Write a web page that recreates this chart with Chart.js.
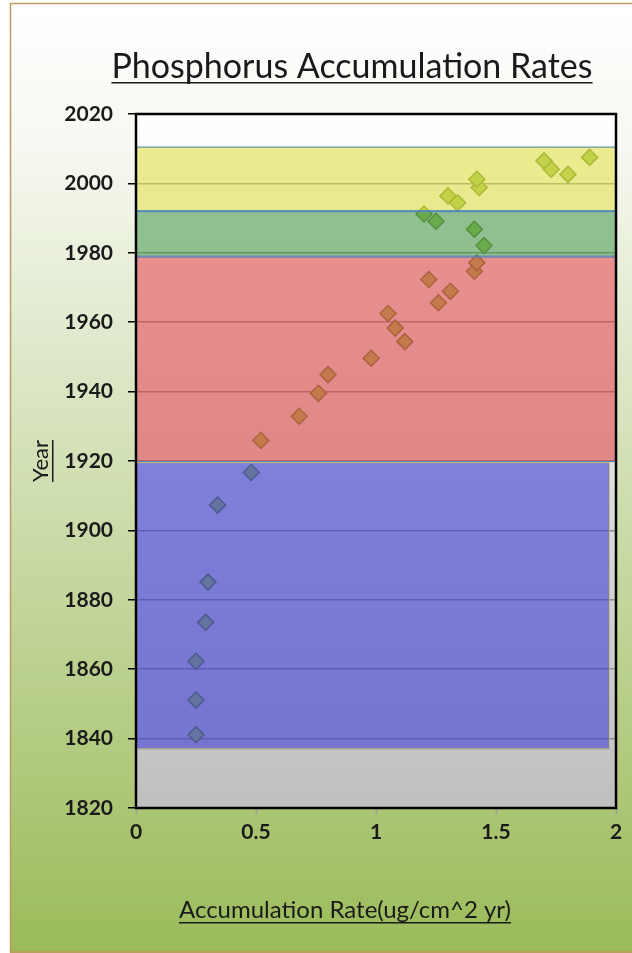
<!DOCTYPE html>
<html>
<head>
<meta charset="utf-8">
<title>Phosphorus Accumulation Rates</title>
<script src="https://cdn.jsdelivr.net/npm/chart.js@4.4.1/dist/chart.umd.min.js"></script>
<style>
  html, body { margin: 0; padding: 0; background: #fff; }
  #chart { display: block; }
</style>
</head>
<body>
<canvas id="chart" width="632" height="953"></canvas>
<script>
// Core samples: accumulation rate (ug/cm^2 yr) against year
const years = [1841.1, 1851.1, 1862.3, 1873.5, 1885.1, 1907.3, 1916.7, 1925.9,
               1932.9, 1939.5, 1944.9, 1949.6, 1954.4, 1958.3, 1962.5, 1965.6,
               1968.9, 1972.3, 1974.7, 1977.1, 1982.1, 1986.8, 1989.1, 1991.2,
               1994.4, 1996.4, 1998.8, 2001.2, 2002.6, 2004.1, 2006.5, 2007.5];
const rates = [0.25, 0.25, 0.25, 0.29, 0.30, 0.34, 0.48, 0.52,
               0.68, 0.76, 0.80, 0.98, 1.12, 1.08, 1.05, 1.26,
               1.31, 1.22, 1.41, 1.42, 1.45, 1.41, 1.25, 1.20,
               1.34, 1.30, 1.43, 1.42, 1.80, 1.73, 1.70, 1.89];

// Shaded periods (years) and how far along the rate axis each one runs
const bandFrom = [1992.0, 1978.9, 1919.7, 1836.9];
const bandTo = [2010.6, 1992.0, 1978.9, 1919.7];
const bandRateEnd = [2, 2, 2, 1.975];

// Axis ranges
const yearMin = 1820, yearMax = 2020, yearStep = 20;
const rateMin = 0, rateMax = 2, rateStep = 0.5;

const bandFill = ['rgba(223,223,70,0.6)', 'rgba(77,155,77,0.6)',
                  'rgba(225,77,77,0.6)', 'rgba(65,65,215,0.6)'];
const bandEdge = ['#4f81bd', '#4f81bd', '#4f81bd', '#c9c070'];

const FONT = 'Lato, "Open Sans", sans-serif';
const INK = '#1a1a1a';

// Page background, outer frame and plot area fill
const backdrop = {
    id: 'backdrop',
    beforeDraw(chart) {
        const { ctx, width, height, chartArea: a } = chart;
        ctx.save();
        ctx.fillStyle = '#ffffff';
        ctx.fillRect(0, 0, width, height);
        const g = ctx.createLinearGradient(0, 3, 0, height);
        g.addColorStop(0, '#ffffff');
        g.addColorStop(0.15, '#f6f8f1');
        g.addColorStop(1, '#9bbb59');
        ctx.fillStyle = g;
        ctx.fillRect(10, 3, width - 10, height - 3);
        ctx.strokeStyle = '#bf9a62';
        ctx.lineWidth = 1.5;
        ctx.beginPath();
        ctx.moveTo(width, 3.5);
        ctx.lineTo(10.5, 3.5);
        ctx.lineTo(10.5, height - 1);
        ctx.lineTo(width, height - 1);
        ctx.stroke();

        const p = ctx.createLinearGradient(0, a.top, 0, a.bottom);
        p.addColorStop(0, '#ffffff');
        p.addColorStop(1, '#bfbfbf');
        ctx.fillStyle = p;
        ctx.fillRect(a.left, a.top, a.right - a.left, a.bottom - a.top);
        ctx.restore();
    }
};

// Translucent period bands laid over the points, then the plot frame
const bands = {
    id: 'bands',
    afterDatasetsDraw(chart) {
        const { ctx, chartArea: a, scales } = chart;
        const xs = scales.x, ys = scales.y;
        ctx.save();
        bandFrom.forEach((from, i) => {
            const x0 = xs.getPixelForValue(rateMin);
            const x1 = xs.getPixelForValue(bandRateEnd[i]);
            const y0 = ys.getPixelForValue(bandTo[i]);
            const y1 = ys.getPixelForValue(from);
            ctx.fillStyle = bandFill[i];
            ctx.fillRect(x0, y0, x1 - x0, y1 - y0);
            ctx.strokeStyle = bandEdge[i];
            ctx.lineWidth = 1;
            ctx.strokeRect(x0 + 0.5, y0 + 0.5, x1 - x0 - 1, y1 - y0 - 1);
        });
        ctx.strokeStyle = '#000000';
        ctx.lineWidth = 2.5;
        ctx.strokeRect(a.left, a.top, a.right - a.left, a.bottom - a.top);
        ctx.restore();
    }
};

// Underlined titles
function underlinedText(ctx, text, x, y, font) {
    ctx.font = font;
    ctx.textAlign = 'center';
    ctx.textBaseline = 'alphabetic';
    ctx.fillText(text, x, y);
    const w = ctx.measureText(text).width;
    ctx.fillRect(x - w / 2, y + 4, w, 1.5);
}

const titles = {
    id: 'titles',
    afterDraw(chart) {
        const { ctx, chartArea: a } = chart;
        ctx.save();
        ctx.fillStyle = INK;
        underlinedText(ctx, 'Phosphorus Accumulation Rates', 352, 78, '34px ' + FONT);
        underlinedText(ctx, 'Accumulation Rate(ug/cm^2 yr)', 345, 918, '24px ' + FONT);
        ctx.translate(48, (a.top + a.bottom) / 2);
        ctx.rotate(-Math.PI / 2);
        underlinedText(ctx, 'Year', 0, 0, '22px ' + FONT);
        ctx.restore();
    }
};

const points = years.map((yr, i) => ({ x: rates[i], y: yr }));

new Chart(document.getElementById('chart'), {
    type: 'scatter',
    data: {
        datasets: [{
            label: 'Phosphorus',
            data: points,
            pointStyle: 'rectRot',
            pointRadius: 8,
            pointHoverRadius: 8,
            backgroundColor: '#98c04a',
            borderColor: '#5f7f28',
            borderWidth: 1.5
        }]
    },
    options: {
        responsive: false,
        animation: false,
        events: [],
        layout: { padding: { left: 10, right: 16, top: 114, bottom: 0 } },
        plugins: {
            legend: { display: false },
            tooltip: { enabled: false },
            title: { display: false }
        },
        scales: {
            x: {
                type: 'linear',
                min: rateMin,
                max: rateMax,
                afterFit: s => { s.height = 145; },
                border: { display: false },
                grid: {
                    drawOnChartArea: false,
                    drawTicks: true,
                    tickLength: 6,
                    tickColor: '#9a9a9a',
                    tickWidth: 1.5
                },
                ticks: {
                    stepSize: rateStep,
                    padding: 6,
                    color: INK,
                    font: { family: FONT, size: 21, weight: 'bold' },
                    maxRotation: 0,
                    callback: v => String(v)
                }
            },
            y: {
                type: 'linear',
                min: yearMin,
                max: yearMax,
                afterFit: s => { s.width = 126; },
                border: { display: false },
                grid: {
                    color: '#8a8a8a',
                    lineWidth: 1.5,
                    drawTicks: true,
                    tickLength: 8,
                    tickColor: '#000000',
                    tickWidth: 1.5
                },
                ticks: {
                    stepSize: yearStep,
                    padding: 15,
                    color: INK,
                    font: { family: FONT, size: 21, weight: 'bold' },
                    callback: v => String(v)
                }
            }
        }
    },
    plugins: [backdrop, bands, titles]
});
</script>
</body>
</html>
